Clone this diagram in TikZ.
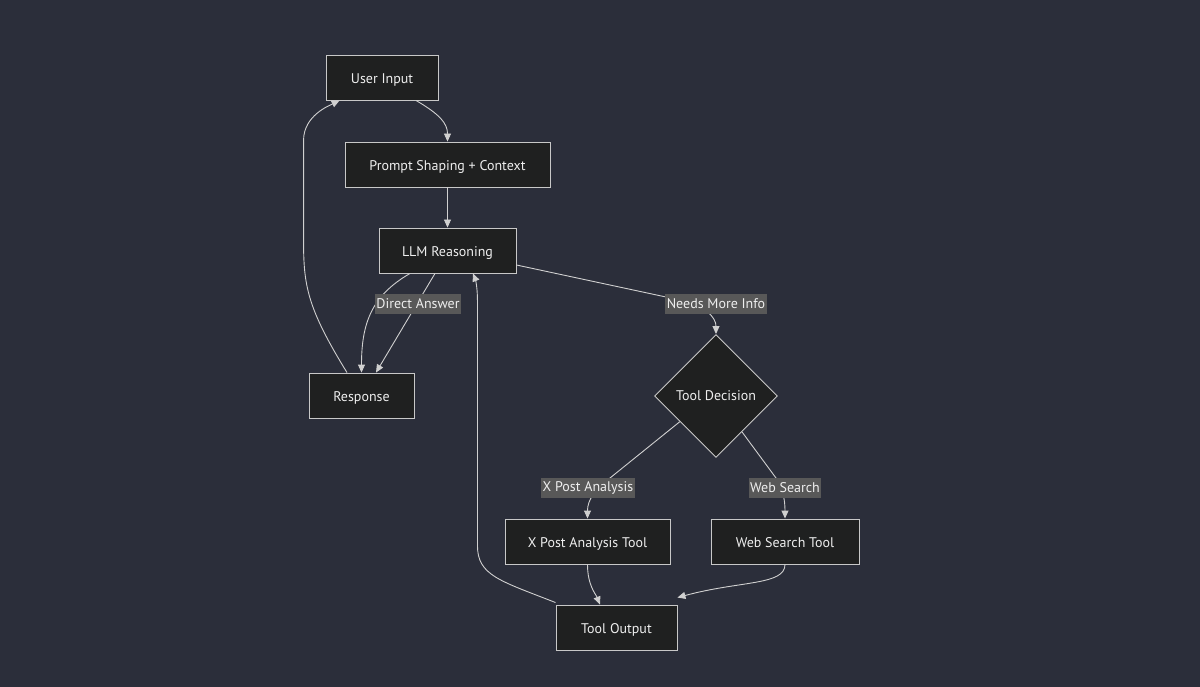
\documentclass[tikz,border=0pt]{standalone}
\usepackage{fontspec}
\setmainfont{PT Sans}
\usetikzlibrary{arrows.meta,shapes.geometric,calc}
\definecolor{bgc}{HTML}{2B2E3A}
\definecolor{nodefill}{HTML}{1F2020}
\definecolor{nodeline}{HTML}{C8C8C8}
\definecolor{edgec}{HTML}{D0D0D0}
\definecolor{lblfill}{HTML}{585858}
\definecolor{txtc}{HTML}{EEEEEE}
\tikzset{
  box/.style={draw=nodeline, fill=nodefill, line width=0.9pt, text=txtc, inner sep=0pt, text height=15pt, text depth=3pt, font=\fontsize{14}{16}\selectfont},
  dec/.style={diamond, aspect=1, draw=nodeline, fill=nodefill, line width=0.9pt, text=txtc, inner sep=0pt, text height=12pt, text depth=3pt, minimum size=123pt, font=\fontsize{14}{16}\selectfont},
  lbl/.style={fill=lblfill, text=txtc, inner sep=1.5pt, minimum height=20pt, font=\fontsize{14}{16}\selectfont},
  edge/.style={draw=edgec, line width=0.9pt, -{Triangle[length=8pt,width=7pt]}},
}
\begin{document}
\begin{tikzpicture}[x=1pt,y=-1pt]
\fill[bgc] (0,0) rectangle (1200,687);
\useasboundingbox (0,0) rectangle (1200,687);

\node[box, minimum width=112pt, minimum height=45pt] (ui) at (382,77.5) {User Input};
\node[box, minimum width=205pt, minimum height=45pt] (ps) at (447.5,164.5) {Prompt Shaping + Context};
\node[box, minimum width=137pt, minimum height=45pt] (llm) at (447.5,250.5) {LLM Reasoning};
\node[box, minimum width=105pt, minimum height=45pt] (resp) at (361.5,395.5) {Response};
\node[dec] (td) at (716,396) {Tool Decision};
\node[box, minimum width=165pt, minimum height=45pt] (xp) at (587.5,541.5) {X Post Analysis Tool};
\node[box, minimum width=148pt, minimum height=45pt] (ws) at (785,541.5) {Web Search Tool};
\node[box, minimum width=121pt, minimum height=45pt] (to) at (616.5,627.5) {Tool Output};

% edges
\draw[edge] ([xshift=34pt]ui.south) .. controls +(24,14) and +(0,-18) .. (ps.north);
\draw[edge] (ps.south) -- (llm.north);
\draw[edge] ([xshift=-37.5pt]llm.south) .. controls +(-38,22) and +(0,-50) .. (resp.north);
\draw[edge] ([xshift=-12.5pt]llm.south) -- ([xshift=14.5pt]resp.north);
\draw[edge] ([xshift=-14.5pt]resp.north) .. controls +(-40,-65) and +(0,45) .. ($(ui.south west)+(-22,140)$) -- ($(ui.south west)+(-22,40)$) .. controls +(0,-25) and +(-10,5) .. ([xshift=14pt]ui.south west);
\draw[edge] ([yshift=-14.5pt]llm.east) -- (680,300) .. controls +(25,6) and +(0,-17) .. (td.north);
\draw[edge] ($(td.south)!0.585!(td.west)$) -- (610,478) .. controls +(-15,12) and +(0,-19) .. (xp.north);
\draw[edge] ($(td.south)!0.42!(td.east)$) -- (776,478) .. controls +(7,12) and +(0,-19) .. (ws.north);
\draw[edge] (xp.south) .. controls +(0,21) and +(-4,-10) .. ([xshift=-16.5pt]to.north);
\draw[edge] (ws.south) .. controls +(0,21) and +(63,-17) .. ([yshift=7pt]to.north east);
\draw[edge] ([yshift=2pt]to.north west) .. controls +(-56,-22) and +(0,30) .. ($(llm.south east)+(-39,272)$) -- ($(llm.south east)+(-39,27)$) .. controls +(0,-15) and +(2,5) .. ([xshift=25.5pt]llm.south);

% labels
\node[lbl] (la) at (418,304) {Direct Answer};
\node[lbl] (lb) at (716,304) {Needs More Info};
\node[lbl] (lc) at (588,488) {X Post Analysis};
\node[lbl] (ld) at (785,488) {Web Search};
\end{tikzpicture}
\end{document}
